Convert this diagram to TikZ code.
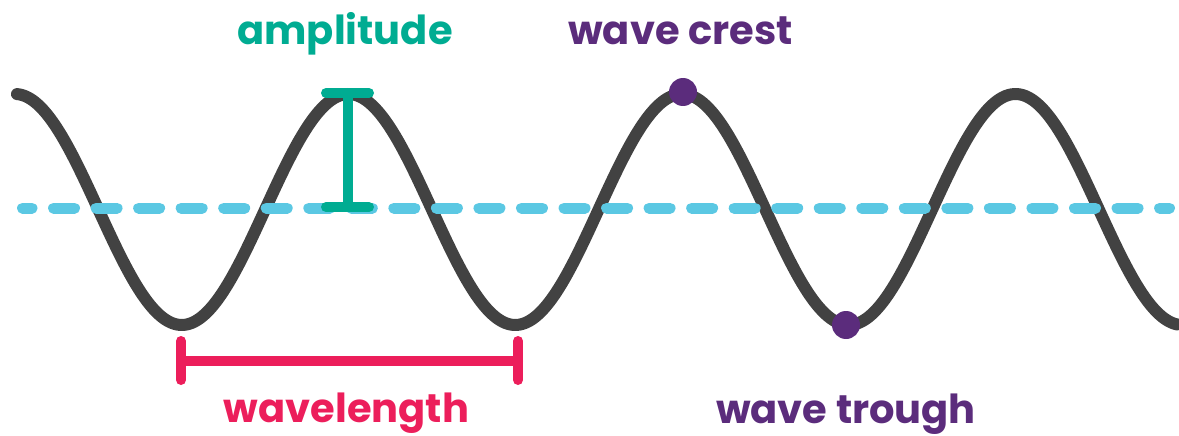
\documentclass[tikz,border=0pt]{standalone}
\usepackage{fontspec}
\setmainfont{Poppins}
\definecolor{wavegray}{HTML}{424242}
\definecolor{dashblue}{HTML}{5BC8E3}
\definecolor{ampteal}{HTML}{00AC92}
\definecolor{wlpink}{HTML}{EC1E5B}
\definecolor{crestpurple}{HTML}{5B2C7C}
\tikzset{
  label/.style={anchor=base, inner sep=0pt, font=\fontsize{40}{40}\selectfont\bfseries},
  wave/.style={draw=wavegray, line width=12pt, line cap=round, line join=round},
  midline/.style={draw=dashblue, line width=11pt, line cap=round, dash pattern=on 21pt off 21.54pt, dash phase=11.5pt},
  bar/.style={line width=10pt, line cap=round},
  dot/.style={circle, fill=crestpurple, minimum size=28pt, inner sep=0pt}
}
\begin{document}
\begin{tikzpicture}[x=1pt, y=-1pt]
\useasboundingbox (0,0) rectangle (1179,436);
% wave
\draw[wave] plot[domain=17:1177, samples=400, smooth] (\x, {209.5 - 115.5*cos((\x-15)*1.0794603)});
% midline
\coordinate (mlA) at (22.5,208);
\coordinate (mlB) at (1169.5,208);
\draw[midline] (mlA) -- (mlB);
% amplitude bar
\coordinate (ampT) at (347.5,93);
\coordinate (ampB) at (347.5,207);
\coordinate (ampTL) at (326,93);
\coordinate (ampTR) at (369,93);
\coordinate (ampBL) at (326,207);
\coordinate (ampBR) at (369,207);
\draw[bar, draw=ampteal] (ampT) -- (ampB);
\draw[bar, draw=ampteal] (ampTL) -- (ampTR);
\draw[bar, draw=ampteal] (ampBL) -- (ampBR);
% wavelength bar
\coordinate (wlL) at (181,361);
\coordinate (wlR) at (518,361);
\coordinate (wlLT) at (181,341);
\coordinate (wlLB) at (181,380);
\coordinate (wlRT) at (518,341);
\coordinate (wlRB) at (518,380);
\draw[bar, draw=wlpink] (wlL) -- (wlR);
\draw[bar, draw=wlpink] (wlLT) -- (wlLB);
\draw[bar, draw=wlpink] (wlRT) -- (wlRB);
% dots
\node[dot] (crest) at (683,92) {};
\node[dot] (trough) at (846,325) {};
% labels
\node[label, text=ampteal] (tAmp) at (345,45) {amplitude};
\node[label, text=crestpurple] (tCrest) at (680.5,45) {wave crest};
\node[label, text=wlpink] (tWl) at (346.5,422) {wavelength};
\node[label, text=crestpurple] (tTrough) at (846,423) {wave trough};
\end{tikzpicture}
\end{document}
